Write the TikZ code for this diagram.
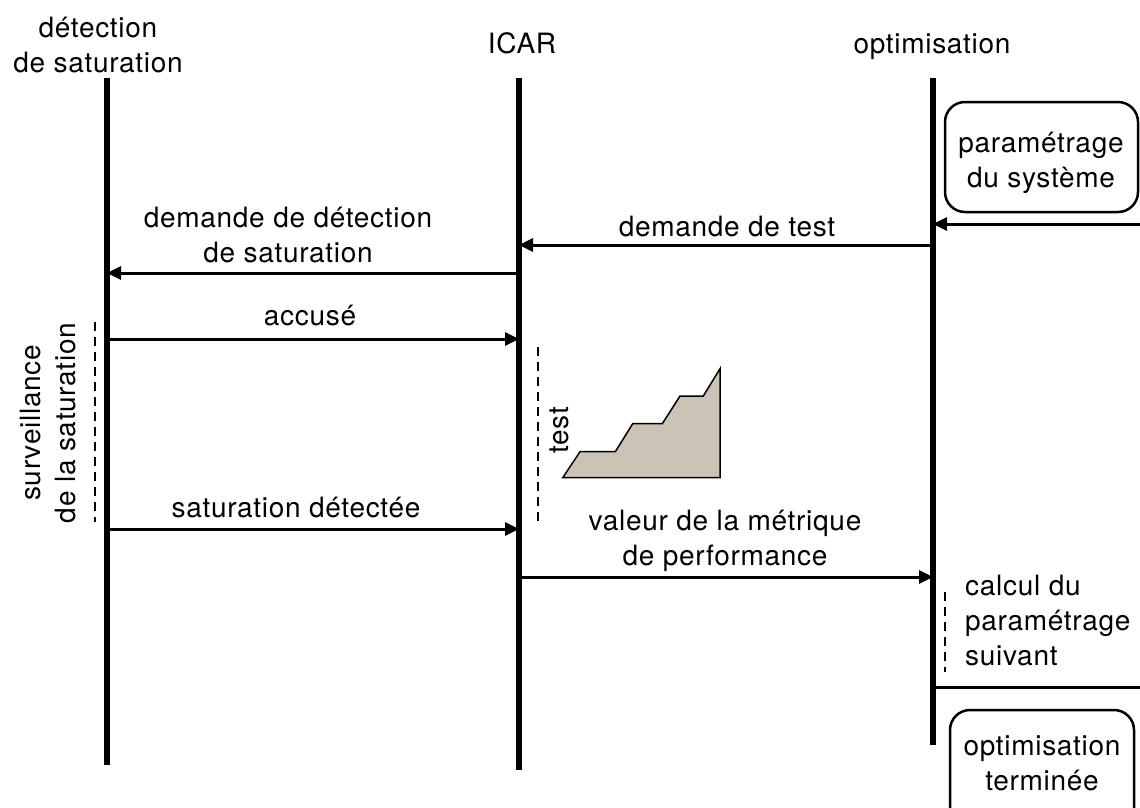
\documentclass[tikz,border=0pt]{standalone}
\usepackage{fontspec}
\setmainfont[LetterSpace=2.5]{TeX Gyre Heros}
\usetikzlibrary{arrows.meta}
\definecolor{tan}{HTML}{CCC3B7}
\tikzset{
  lifeline/.style={line width=5.5pt},
  msg/.style={line width=3pt,-{Triangle[length=14pt,width=13pt]}},
  plainline/.style={line width=3pt},
  lbl/.style={font=\fontsize{28}{35}\selectfont,align=center,inner sep=0pt,anchor=base},
  hdr/.style={font=\fontsize{28}{35}\selectfont,align=center,inner sep=0pt,anchor=base},
  dashline/.style={line width=1.8pt,dash pattern=on 9pt off 6pt},
  phase/.style={draw,line width=2.5pt,rounded corners=20pt},
}
\begin{document}
\begin{tikzpicture}[x=1pt,y=-1pt]
\useasboundingbox (0,0) rectangle (1140,807);
% headers (base anchor = baseline of last line)
\node[hdr] (hD) at (98,72) {détection\\de saturation};
\node[hdr] (hI) at (522,53) {ICAR};
\node[hdr] (hO) at (932,53) {optimisation};
% lifelines
\coordinate (Dt) at (107,78); \coordinate (Db) at (107,765);
\coordinate (It) at (519,78); \coordinate (Ib) at (519,770);
\coordinate (Ot) at (933,78); \coordinate (Ob) at (933,745);
\draw[lifeline] (Dt) -- (Db);
\draw[lifeline] (It) -- (Ib);
\draw[lifeline] (Ot) -- (Ob);
% parametrage box
\draw[phase] (945,102) rectangle (1138,212);
\node[lbl] (p1) at (1041,187) {paramétrage\\du système};
\coordinate (Rin) at (1140,224);
\draw[msg] (Rin) -- (Ot|-Rin);
% demande de test
\coordinate (m1) at (933,245);
\draw[msg] (m1) -- (It|-m1);
\node[lbl] (l1) at (727,236) {demande de test};
% demande de detection
\coordinate (m2) at (519,273);
\draw[msg] (m2) -- (Dt|-m2);
\node[lbl] (l2) at (288,262) {demande de détection\\de saturation};
% accuse
\coordinate (m3) at (107,339);
\draw[msg] (m3) -- (It|-m3);
\node[lbl] (l3) at (310,325) {accusé};
% saturation detectee
\coordinate (m4) at (107,529);
\draw[msg] (m4) -- (It|-m4);
\node[lbl] (l4) at (296,517) {saturation détectée};
% valeur
\coordinate (m5) at (519,577);
\draw[msg] (m5) -- (Ot|-m5);
\node[lbl] (l5) at (725,565) {valeur de la métrique\\de performance};
% surveillance
\coordinate (s1) at (95,322); \coordinate (s2) at (95,522);
\draw[dashline] (s1) -- (s2);
\node[lbl,rotate=90,anchor=base] (sv) at (75,423) {surveillance\\de la saturation};
% test
\coordinate (t1) at (538,347); \coordinate (t2) at (538,523);
\draw[dashline] (t1) -- (t2);
\node[lbl,rotate=90,anchor=base] (tt) at (568,430) {test};
\draw[fill=tan,line width=1.5pt,line join=miter] (562.7,477.7) -- (580,451.7) -- (615.3,451.7) -- (632.7,423.7) -- (662.3,423.7) -- (680,396) -- (703.3,396) -- (720,368.7) -- (720,477.7) -- cycle;
% calcul
\coordinate (c1) at (945,592); \coordinate (c2) at (945,672);
\draw[dashline] (c1) -- (c2);
\node[lbl,align=left,anchor=base west] (cc) at (965,665) {calcul du\\paramétrage\\suivant};
\coordinate (h1) at (1140,687);
\draw[plainline] (Ot|-h1) -- (h1);
% optimisation terminee
\draw[phase] (950,710) rectangle (1134,830);
\node[lbl] (ot) at (1042,790) {optimisation\\terminée};
\end{tikzpicture}
\end{document}
